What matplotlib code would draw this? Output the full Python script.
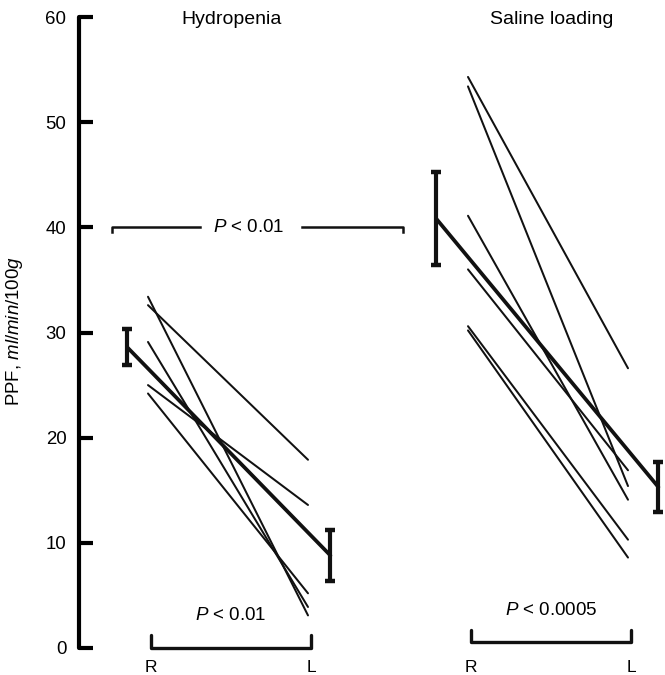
import matplotlib
matplotlib.use('Agg')
import matplotlib.pyplot as plt

plt.rcParams['font.family'] = ['Liberation Sans', 'DejaVu Sans']
plt.rcParams['mathtext.fontset'] = 'custom'
plt.rcParams['mathtext.rm'] = 'Liberation Sans'
plt.rcParams['mathtext.it'] = 'Liberation Sans:italic'

# ---- data ----
groups = ['Hydropenia', 'Saline loading']
side_labels = ['R', 'L']
hyd_R = [33.4, 32.6, 29.1, 25.0, 24.2]
hyd_L = [3.1, 17.9, 3.9, 13.6, 5.2]
sal_R = [54.3, 53.4, 41.1, 36.0, 30.6, 30.2]
sal_L = [26.6, 15.4, 14.1, 16.9, 10.3, 8.6]
mean_R = [28.6, 40.85]
mean_L = [8.8, 15.3]
sem_R = [1.7, 4.45]
sem_L = [2.4, 2.4]
yticks = [0, 10, 20, 30, 40, 50, 60]
p_within = [r'$\it{P}$ < 0.01', r'$\it{P}$ < 0.0005']
p_between = r'$\it{P}$ < 0.01'
ylabel = r'PPF, $\it{ml/min/100g}$'

# ---- layout ----
pos_R = [0.0, 2.0]
pos_L = [1.0, 3.0]
mean_off_R = [-0.13, -0.2]
mean_off_L = [0.14, 0.19]
bracket_y = [0.0, 0.55]
ptext_y = [3.1, 3.6]

fig = plt.figure(figsize=(6.65, 6.75), dpi=100)
ax = fig.add_axes([79/665, 27/675, (665-79)/665, (648-17)/675])
ax.set_xlim(-0.43125, 3.23125)
ax.set_ylim(0, 60)

for s in ['top', 'right', 'bottom']:
    ax.spines[s].set_visible(False)
ax.spines['left'].set_linewidth(3)
ax.spines['left'].set_capstyle('round')
ax.set_xticks([])
ax.set_yticks(yticks)
ax.tick_params(axis='y', direction='in', length=10, width=3, labelsize=13.4, pad=9)

ink = '#111111'
ind = [(hyd_R, hyd_L), (sal_R, sal_L)]
for g in range(2):
    rs, ls = ind[g]
    for r, l in zip(rs, ls):
        ax.plot([pos_R[g], pos_L[g]], [r, l], color=ink, lw=1.45,
                solid_capstyle='round', clip_on=False)
    xr = pos_R[g] + mean_off_R[g]
    xl = pos_L[g] + mean_off_L[g]
    ax.plot([xr, xl], [mean_R[g], mean_L[g]], color=ink, lw=2.7,
            solid_capstyle='round', clip_on=False)
    ax.errorbar([xr, xl], [mean_R[g], mean_L[g]], yerr=[sem_R[g], sem_L[g]],
                fmt='none', ecolor=ink, elinewidth=3, capsize=3.5,
                capthick=3.2, clip_on=False)
    # bracket
    by = bracket_y[g]
    ax.plot([pos_R[g] + 0.02, pos_R[g] + 0.02, pos_L[g] + 0.02, pos_L[g] + 0.02],
            [by + 1.2, by, by, by + 1.2], color=ink, lw=2.4,
            solid_capstyle='round', solid_joinstyle='round', clip_on=False)
    ax.text(pos_R[g] + 0.02, -1.85, side_labels[0], ha='center', va='center',
            fontsize=12.5, clip_on=False)
    ax.text(pos_L[g] + 0.02, -1.85, side_labels[1], ha='center', va='center',
            fontsize=12.5, clip_on=False)
    ax.text((pos_R[g] + pos_L[g]) / 2 + 0.02, ptext_y[g], p_within[g],
            ha='center', va='center', fontsize=13.5)
    ax.text((pos_R[g] + pos_L[g]) / 2 + 0.02, 59.8, groups[g],
            ha='center', va='center', fontsize=14, clip_on=False)

# between-group comparison at 40
ax.plot([-0.225, -0.225, 0.325], [39.6, 40, 40], color=ink, lw=1.8)
ax.plot([0.9625, 1.594, 1.594], [40, 40, 39.6], color=ink, lw=1.8)
ax.text(0.63, 40, p_between, ha='center', va='center', fontsize=13.5)

fig.text(15/665, 1 - 331/675, ylabel, rotation=90, ha='center', va='center',
         fontsize=13.4)

fig.savefig('out.png', dpi=100)
